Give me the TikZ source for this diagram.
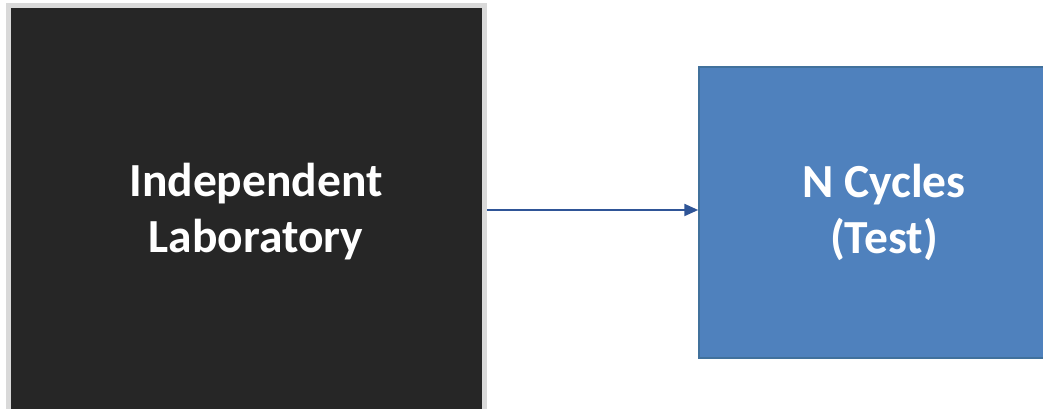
\documentclass[tikz,border=0pt]{standalone}
\usepackage{fontspec}
\setmainfont{Carlito}
\usetikzlibrary{arrows.meta}
\definecolor{darkfill}{HTML}{262626}
\definecolor{greyedge}{HTML}{D9D9D9}
\definecolor{bluefill}{HTML}{4F81BD}
\definecolor{blueedge}{HTML}{41719C}
\definecolor{arrowblue}{HTML}{2F5597}
\tikzset{
  boxtext/.style={text=white, font=\fontsize{47.5}{56}\selectfont\bfseries, align=center, inner sep=0pt},
  darkbox/.style={draw=greyedge, fill=darkfill, line width=5pt, minimum width=476pt, minimum height=408pt, inner sep=0pt},
  bluebox/.style={draw=blueedge, fill=bluefill, line width=1.5pt, minimum width=370pt, minimum height=291pt, inner sep=0pt},
  link/.style={draw=arrowblue, line width=2.2pt, -{Triangle[length=14pt,width=12pt]}}
}
\begin{document}
\begin{tikzpicture}[x=1pt,y=1pt]
\useasboundingbox (0,0) rectangle (1043,409);
\begin{scope}
\clip (0,0) rectangle (1043,409);
\node[darkbox] (lab) at (246.5,199) {};
\node[bluebox] (cyc) at (884,196.5) {};
\end{scope}
\node[boxtext] (labtext) at (256,197) {Independent\\Laboratory};
\node[boxtext] (cyctext) at (884,197) {N Cycles\\(Test)};
\draw[link] (lab.east) -- (lab.east -| cyc.west);
\end{tikzpicture}
\end{document}
